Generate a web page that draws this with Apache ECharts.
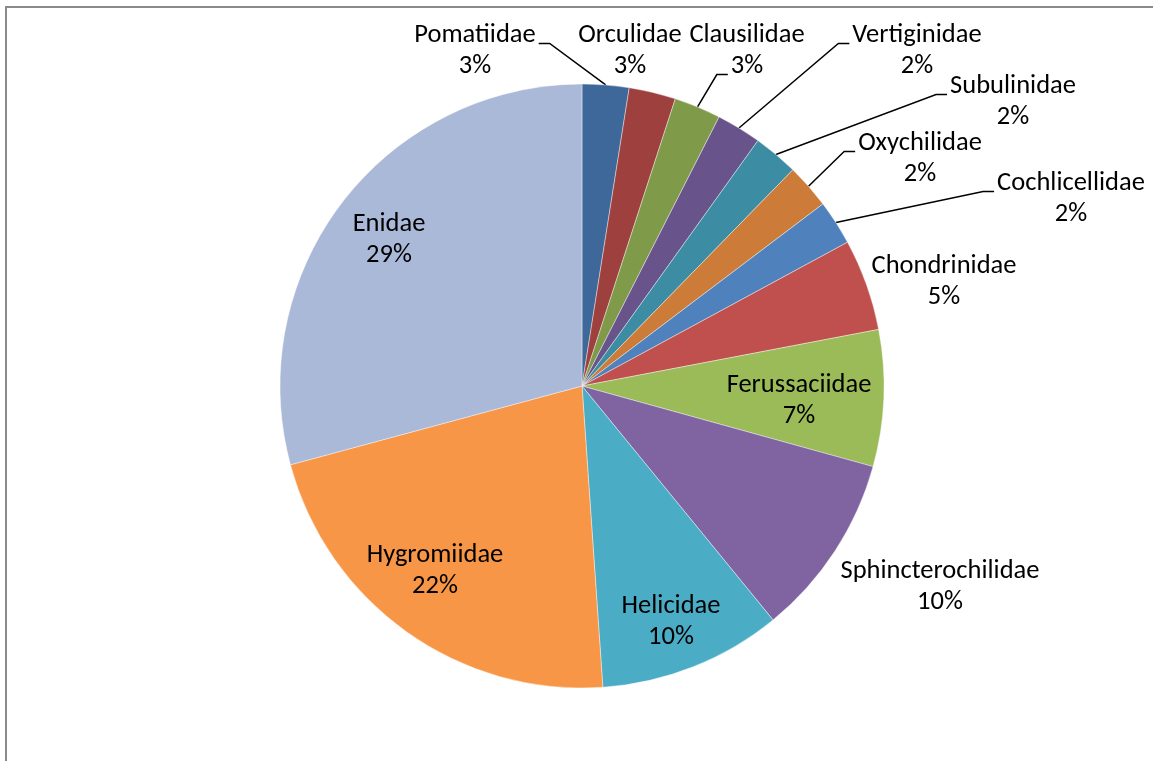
<!DOCTYPE html>
<html>
<head>
<meta charset="utf-8">
<title>Families</title>
<script src="https://cdn.jsdelivr.net/npm/echarts@6/dist/echarts.min.js"></script>
<style>
  html, body { margin: 0; padding: 0; background: #fff; }
  #chart { width: 1153px; height: 761px; }
  #frame {
    position: absolute; left: 5px; top: 6px; width: 1160px; height: 770px;
    border-left: 2px solid #8a8a8a; border-top: 2px solid #8a8a8a;
    pointer-events: none;
  }
</style>
</head>
<body>
<div id="chart"></div>
<div id="frame"></div>
<script>
  // families, clockwise from 12 o'clock
  var families = ['Pomatiidae', 'Orculidae', 'Clausilidae', 'Vertiginidae', 'Subulinidae',
    'Oxychilidae', 'Cochlicellidae', 'Chondrinidae', 'Ferussaciidae', 'Sphincterochilidae',
    'Helicidae', 'Hygromiidae', 'Enidae'];
  // share of species (%)
  var shares = [2.5, 2.5, 2.5, 2.4, 2.4, 2.4, 2.4, 4.9, 7.3, 9.8, 9.8, 21.9, 29.2];

  var colors = ['#3D6899', '#9E413E', '#7F9A48', '#68538A', '#3C8DA3', '#CC7B38', '#4F81BD',
    '#C0504D', '#9BBB59', '#8064A2', '#4BACC6', '#F79646', '#AAB9D7'];

  // where each label block is centred (Excel placed them by hand)
  var labelAt = [[475, 51], [630, 51], [747, 51], [917, 51], [1013, 102], [920, 159], [1071, 199],
    [944, 282], [799, 401], [940, 587], [671, 622], [435, 571], [389, 240]];
  // leader line hook: [side of text (-1 left, 1 right), which line (0 name, 1 percent)]
  var hooks = [[1, 0], null, [-1, 1], [-1, 0], [-1, 0], [-1, 0], [-1, 0],
    null, null, null, null, null, null];

  var fontSize = 26.5, lineH = 31, fontFamily = 'Carlito, Lato, sans-serif';
  var total = shares.reduce(function (a, b) { return a + b; }, 0);

  function pctText(i) {
    return Math.round(shares[i] / total * 100) + '%';
  }

  var ctx = document.createElement('canvas').getContext('2d');
  ctx.font = fontSize + 'px ' + fontFamily;
  function textW(s) { return ctx.measureText(s).width; }

  var chart = echarts.init(document.getElementById('chart'));

  chart.setOption({
    color: colors,
    animation: false,
    series: [{
      type: 'pie',
      center: [582, 386],
      radius: 302,
      startAngle: 90,
      clockwise: true,
      avoidLabelOverlap: false,
      itemStyle: { borderColor: '#fff', borderWidth: 0.4 },
      label: {
        show: true,
        position: 'outside',
        color: '#000',
        fontFamily: fontFamily,
        fontSize: fontSize,
        lineHeight: lineH,
        align: 'center',
        formatter: function (p) {
          return p.name + '\n' + pctText(p.dataIndex);
        }
      },
      labelLine: {
        show: true,
        length: 15,
        length2: 10,
        lineStyle: { color: '#000', width: 1.5 }
      },
      labelLayout: function (p) {
        var i = p.dataIndex;
        var pos = labelAt[i];
        var out = { x: pos[0], y: pos[1], align: 'center', verticalAlign: 'middle' };
        var hook = hooks[i];
        if (hook && p.labelLinePoints) {
          var txt = hook[1] === 0 ? families[i] : pctText(i);
          var side = hook[0];
          var ax = pos[0] + side * (textW(txt) / 2 + 3);
          var ay = pos[1] + (hook[1] === 0 ? -lineH / 2 : lineH / 2) + 8;
          out.labelLinePoints = [p.labelLinePoints[0], [ax + side * 11, ay], [ax, ay]];
        }
        return out;
      },
      data: families.map(function (name, i) {
        return {
          name: name,
          value: shares[i],
          labelLine: { show: !!hooks[i] }
        };
      })
    }]
  });
</script>
</body>
</html>
